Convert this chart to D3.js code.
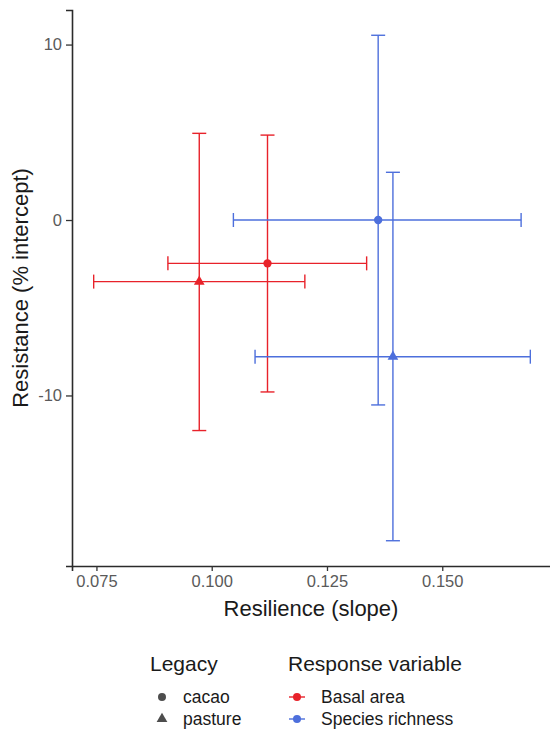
<!DOCTYPE html>
<html>
<head>
<meta charset="utf-8">
<script src="https://cdn.jsdelivr.net/npm/d3@7"></script>
<style>
  body { margin: 0; background: #fff; }
  svg { display: block; font-family: "Liberation Sans", Arial, sans-serif; }
</style>
</head>
<body>
<div id="chart"></div>
<script>
// estimates
const legacy = ['cacao', 'pasture', 'cacao', 'pasture'];
const response = ['Basal area', 'Basal area', 'Species richness', 'Species richness'];
const resilience = [0.1121, 0.0973, 0.1361, 0.1393];
const resilienceLo = [0.0905, 0.0744, 0.1047, 0.1094];
const resilienceHi = [0.1336, 0.1202, 0.1671, 0.1691];
const resistance = [-2.47, -3.51, 0.0, -7.79];
const resistanceLo = [-9.80, -12.0, -10.54, -18.28];
const resistanceHi = [4.84, 4.94, 10.53, 2.72];

const xTicks = [0.075, 0.100, 0.125, 0.150];
const yTicks = [-10, 0, 10];
const legacyLevels = ['cacao', 'pasture'];
const responseLevels = ['Basal area', 'Species richness'];
const responseColors = ['#e8222a', '#4d6fdc'];

const width = 550, height = 731;
const margin = { top: 10, right: -2, bottom: 165, left: 72 };

const data = legacy.map((l, i) => ({
  legacy: l,
  response: response[i],
  x: resilience[i], xlo: resilienceLo[i], xhi: resilienceHi[i],
  y: resistance[i], ylo: resistanceLo[i], yhi: resistanceHi[i]
}));

const svg = d3.select('#chart').append('svg')
  .attr('width', width)
  .attr('height', height);

const x = d3.scaleLinear()
  .domain([0.0697, 0.1738])
  .range([margin.left, width - margin.right]);
const y = d3.scaleLinear()
  .domain([-19.72, 11.97])
  .range([height - margin.bottom, margin.top]);

const color = d3.scaleOrdinal().domain(responseLevels).range(responseColors);
const shape = d3.scaleOrdinal().domain(legacyLevels).range([d3.symbolCircle, d3.symbolTriangle]);

// axes
const xAxis = svg.append('g')
  .attr('transform', `translate(0,${height - margin.bottom})`)
  .call(d3.axisBottom(x).tickValues(xTicks).tickFormat(d3.format('.3f')).tickSize(5).tickPadding(4));
const yAxis = svg.append('g')
  .attr('transform', `translate(${margin.left},0)`)
  .call(d3.axisLeft(y).tickValues(yTicks).tickFormat(d => String(d)).tickSize(6).tickPadding(4));

[xAxis, yAxis].forEach(a => {
  a.select('.domain').attr('stroke', '#2b2b2b').attr('stroke-width', 1.6);
  a.selectAll('.tick line').attr('stroke', '#333').attr('stroke-width', 1.3);
  a.selectAll('.tick text')
    .attr('fill', '#5a5a5a')
    .style('font-size', '16.5px')
    .style('font-family', '"Liberation Sans", Arial, sans-serif');
});

svg.append('text')
  .attr('x', (margin.left + width) / 2)
  .attr('y', 608)
  .attr('text-anchor', 'middle')
  .attr('dominant-baseline', 'central')
  .style('font-size', '22px')
  .attr('fill', '#1a1a1a')
  .text('Resilience (slope)');

svg.append('text')
  .attr('transform', `translate(20,${(margin.top + height - margin.bottom) / 2}) rotate(-90)`)
  .attr('text-anchor', 'middle')
  .attr('dominant-baseline', 'central')
  .style('font-size', '22px')
  .attr('fill', '#1a1a1a')
  .text('Resistance (% intercept)');

// error bars
const cap = 7;
const g = svg.append('g');
data.forEach(d => {
  const c = color(d.response);
  const gg = g.append('g').attr('stroke', c).attr('stroke-width', 1.4).attr('fill', 'none');
  // vertical
  gg.append('line').attr('x1', x(d.x)).attr('x2', x(d.x)).attr('y1', y(d.ylo)).attr('y2', y(d.yhi));
  gg.append('line').attr('x1', x(d.x) - cap).attr('x2', x(d.x) + cap).attr('y1', y(d.ylo)).attr('y2', y(d.ylo));
  gg.append('line').attr('x1', x(d.x) - cap).attr('x2', x(d.x) + cap).attr('y1', y(d.yhi)).attr('y2', y(d.yhi));
  // horizontal
  gg.append('line').attr('y1', y(d.y)).attr('y2', y(d.y)).attr('x1', x(d.xlo)).attr('x2', x(d.xhi));
  gg.append('line').attr('y1', y(d.y) - cap).attr('y2', y(d.y) + cap).attr('x1', x(d.xlo)).attr('x2', x(d.xlo));
  gg.append('line').attr('y1', y(d.y) - cap).attr('y2', y(d.y) + cap).attr('x1', x(d.xhi)).attr('x2', x(d.xhi));
});

g.selectAll('path.pt')
  .data(data)
  .enter()
  .append('path')
  .attr('class', 'pt')
  .attr('d', d => d3.symbol().type(shape(d.legacy)).size(d.legacy === 'cacao' ? 55 : 50)())
  .attr('transform', d => `translate(${x(d.x)},${y(d.y)})`)
  .attr('fill', d => color(d.response));

// legends
const leg1 = svg.append('g').attr('transform', 'translate(150,0)');
leg1.append('text')
  .attr('x', 0).attr('y', 663)
  .attr('dominant-baseline', 'central')
  .style('font-size', '21px').attr('fill', '#1a1a1a')
  .text('Legacy');
legacyLevels.forEach((l, i) => {
  const cy = 697 + i * 22;
  leg1.append('path')
    .attr('d', d3.symbol().type(shape(l)).size(50)())
    .attr('transform', `translate(12,${cy})`)
    .attr('fill', '#4d4d4d');
  leg1.append('text')
    .attr('x', 33).attr('y', cy)
    .attr('dominant-baseline', 'central')
    .style('font-size', '17.5px').attr('fill', '#1a1a1a')
    .text(l);
});

const leg2 = svg.append('g').attr('transform', 'translate(288,0)');
leg2.append('text')
  .attr('x', 0).attr('y', 663)
  .attr('dominant-baseline', 'central')
  .style('font-size', '21px').attr('fill', '#1a1a1a')
  .text('Response variable');
responseLevels.forEach((r, i) => {
  const cy = 697 + i * 22;
  leg2.append('line')
    .attr('x1', 1).attr('x2', 17).attr('y1', cy).attr('y2', cy)
    .attr('stroke', color(r)).attr('stroke-width', 1.4);
  leg2.append('circle')
    .attr('cx', 9).attr('cy', cy).attr('r', 4)
    .attr('fill', color(r));
  leg2.append('text')
    .attr('x', 33).attr('y', cy)
    .attr('dominant-baseline', 'central')
    .style('font-size', '17.5px').attr('fill', '#1a1a1a')
    .text(r);
});
</script>
</body>
</html>
